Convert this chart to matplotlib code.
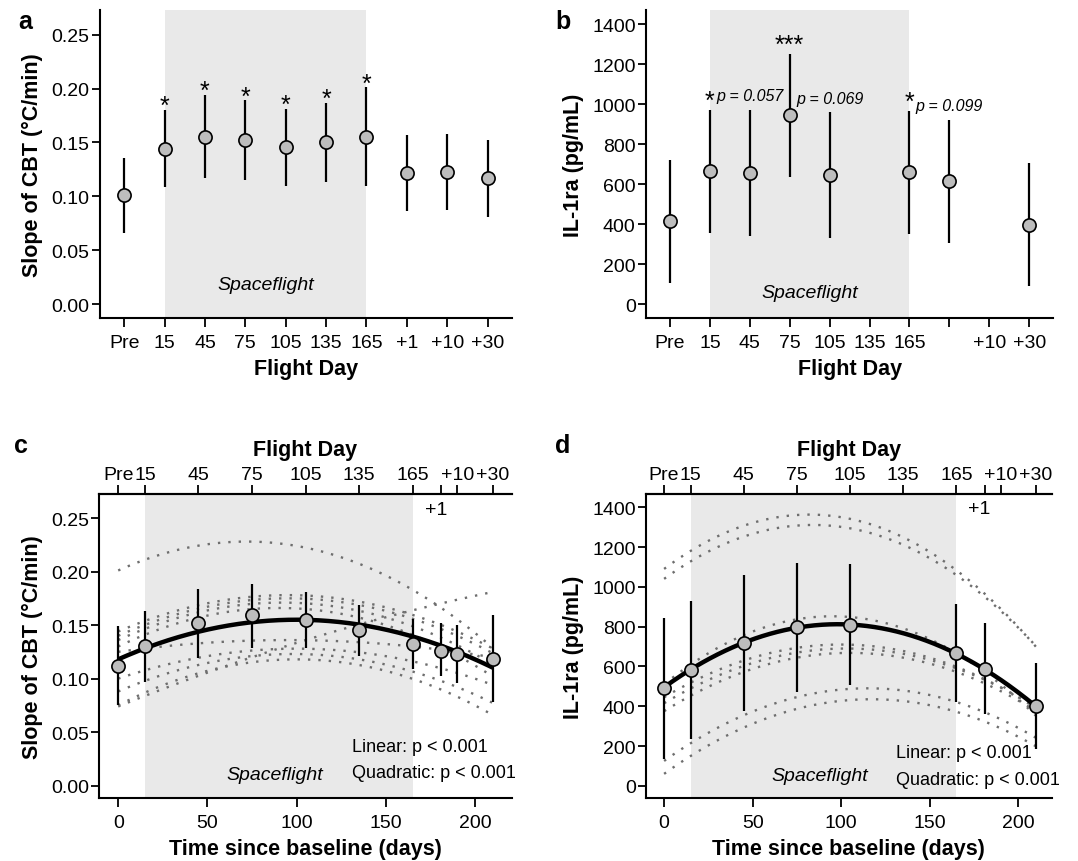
import numpy as np
import matplotlib
matplotlib.use('Agg')
import matplotlib.pyplot as plt

plt.rcParams['font.family'] = ['Liberation Sans', 'DejaVu Sans']

# ---- panel a: slope of CBT by flight day (categorical) ----
a_labels = ['Pre', '15', '45', '75', '105', '135', '165', '+1', '+10', '+30']
a_mean = [0.101, 0.144, 0.155, 0.152, 0.146, 0.150, 0.155, 0.122, 0.123, 0.117]
a_low = [0.066, 0.109, 0.117, 0.115, 0.110, 0.113, 0.110, 0.086, 0.087, 0.081]
a_high = [0.136, 0.180, 0.194, 0.189, 0.181, 0.187, 0.201, 0.157, 0.158, 0.152]
a_stars = ['', '*', '*', '*', '*', '*', '*', '', '', '']

# ---- panel b: IL-1ra by flight day (categorical) ----
b_tick_labels = ['Pre', '15', '45', '75', '105', '135', '165', '', '+10', '+30']
b_pos = [0, 1, 2, 3, 4, 6, 7, 9]
b_mean = [417, 663, 655, 945, 645, 662, 617, 397]
b_low = [105, 355, 342, 633, 330, 350, 305, 88]
b_high = [722, 970, 970, 1250, 958, 967, 922, 705]
b_stars = ['', '*', '', '***', '', '*', '', '']
b_pvals = ['', '', 'p = 0.057', '', 'p = 0.069', '', 'p = 0.099', '']

# ---- top axis for panels c/d ----
top_ticks = [0, 15, 45, 75, 105, 135, 165, 181, 190, 210]
top_labels = ['Pre', '15', '45', '75', '105', '135', '165', '', '+10', '+30']

# ---- panel c: slope of CBT vs time since baseline ----
c_days = [0, 15, 45, 75, 105, 135, 165, 181, 190, 210]
c_mean = [0.112, 0.130, 0.152, 0.159, 0.155, 0.145, 0.132, 0.126, 0.123, 0.118]
c_low = [0.075, 0.097, 0.119, 0.129, 0.129, 0.121, 0.109, 0.102, 0.096, 0.078]
c_high = [0.149, 0.163, 0.184, 0.188, 0.181, 0.169, 0.156, 0.152, 0.150, 0.159]
# quadratic fits, vertex form: value at day 0, day of peak, peak value
c_fit = (0.118, 100, 0.155)
c_subj_day0 = [0.201, 0.144, 0.140, 0.136, 0.130, 0.125, 0.074, 0.100, 0.088, 0.075]
c_subj_peak_day = [72, 95, 95, 92, 90, 95, 435, 100, 98, 100]
c_subj_peak = [0.228, 0.178, 0.175, 0.171, 0.166, 0.136, 0.220, 0.128, 0.123, 0.118]

# ---- panel d: IL-1ra vs time since baseline ----
d_days = [0, 15, 45, 75, 105, 165, 181, 210]
d_mean = [490, 583, 718, 796, 810, 667, 587, 402]
d_low = [137, 235, 377, 469, 506, 419, 360, 184]
d_high = [842, 931, 1060, 1120, 1115, 914, 818, 617]
d_fit = (495, 98, 812)
d_subj_day0 = [1090, 1040, 510, 445, 415, 375, 125, 60]
d_subj_peak_day = [82, 84, 95, 100, 103, 105, 115, 117]
d_subj_peak = [1363, 1311, 852, 710, 690, 668, 490, 435]

SHADE = '#e9e9e9'
FILL = '#bdbdbd'
TICK_FS = 14
LABEL_FS = 15.5
STAR_FS = 18


def quad(t, day0, peak_day, peak):
    return peak - (peak - day0) * ((t - peak_day) / peak_day) ** 2


def style_axis(ax, top=False):
    for s in ['left', 'bottom', 'top', 'right']:
        ax.spines[s].set_linewidth(1.5)
    ax.spines['right'].set_visible(False)
    ax.spines['top'].set_visible(top)
    ax.tick_params(axis='x', direction='out', length=6.5, width=1.3,
                   labelsize=TICK_FS, pad=5)
    ax.tick_params(axis='y', direction='out', length=5.5, width=1.3,
                   labelsize=TICK_FS, pad=2)


def draw_points(ax, x, mean, low, high):
    mean = np.array(mean)
    err = [mean - np.array(low), np.array(high) - mean]
    ax.errorbar(x, mean, yerr=err, fmt='none', ecolor='black', elinewidth=1.6,
                capsize=0, zorder=4)
    ax.plot(x, mean, 'o', ms=9.5, mfc=FILL, mec='black', mew=1.2, zorder=5)


fig = plt.figure(figsize=(10.78, 8.62), dpi=100)
ax_a = fig.add_axes([0.0928, 0.6299, 0.3819, 0.3573])
ax_b = fig.add_axes([0.5993, 0.6299, 0.3776, 0.3573])
ax_c = fig.add_axes([0.0921, 0.0727, 0.3826, 0.3534])
ax_d = fig.add_axes([0.5993, 0.0727, 0.3763, 0.3534])

# panel a
ax = ax_a
style_axis(ax)
xa = np.arange(len(a_labels))
ax.axvspan(1, 6, color=SHADE, lw=0, zorder=0)
draw_points(ax, xa, a_mean, a_low, a_high)
for x, h, s in zip(xa, a_high, a_stars):
    if s:
        ax.text(x, h - 0.003, s, ha='center', va='baseline', fontsize=STAR_FS)
ax.text(3.5, 0.018, 'Spaceflight', ha='center', va='center', fontsize=14, style='italic')
ax.set_xlim(-0.6, 9.6)
ax.set_ylim(-0.013, 0.2729)
ax.set_xticks(xa)
ax.set_xticklabels(a_labels)
ax.set_yticks([0, 0.05, 0.10, 0.15, 0.20, 0.25])
ax.set_yticklabels(['0.00', '0.05', '0.10', '0.15', '0.20', '0.25'])
ax.set_xlabel('Flight Day', fontsize=LABEL_FS, fontweight='bold', labelpad=5)
ax.set_ylabel('Slope of CBT (°C/min)', fontsize=LABEL_FS, fontweight='bold', labelpad=6)

# panel b
ax = ax_b
style_axis(ax)
ax.axvspan(1, 6, color=SHADE, lw=0, zorder=0)
draw_points(ax, b_pos, b_mean, b_low, b_high)
for x, h, s in zip(b_pos, b_high, b_stars):
    if s:
        ax.text(x, h + 10, s, ha='center', va='baseline', fontsize=STAR_FS)
for x, h, p in zip(b_pos, b_high, b_pvals):
    if p:
        ax.text(x, h + 72, p, ha='center', va='center', fontsize=11.5, style='italic')
ax.text(3.5, 60, 'Spaceflight', ha='center', va='center', fontsize=14, style='italic')
ax.set_xlim(-0.6, 9.6)
ax.set_ylim(-70, 1470)
ax.set_xticks(np.arange(len(b_tick_labels)))
ax.set_xticklabels(b_tick_labels)
ax.set_yticks(np.arange(0, 1401, 200))
ax.set_xlabel('Flight Day', fontsize=LABEL_FS, fontweight='bold', labelpad=5)
ax.set_ylabel('IL-1ra (pg/mL)', fontsize=LABEL_FS, fontweight='bold', labelpad=6)


def time_panel(ax, days, mean, low, high, fit, s0, sday, speak, xlim, ylim, yticks,
               yticklabels, ylabel, plus1_y, lin_y, quad_y, sf_y):
    style_axis(ax, top=True)
    ax.axvspan(15, 165, color=SHADE, lw=0, zorder=0)
    t = np.linspace(0, 210, 300)
    for a0, pd, pk in zip(s0, sday, speak):
        ax.plot(t, quad(t, a0, pd, pk), color='#6e6e6e', lw=1.7,
                ls=(0, (1, 3.4)), zorder=2)
    ax.plot(t, quad(t, *fit), color='black', lw=3.2, zorder=3,
            solid_capstyle='butt')
    draw_points(ax, days, mean, low, high)
    ax.set_xlim(*xlim)
    ax.set_ylim(*ylim)
    ax.set_xticks([0, 50, 100, 150, 200])
    ax.set_yticks(yticks)
    ax.set_yticklabels(yticklabels)
    ax.set_xlabel('Time since baseline (days)', fontsize=LABEL_FS, fontweight='bold',
                  labelpad=5)
    ax.set_ylabel(ylabel, fontsize=LABEL_FS, fontweight='bold', labelpad=6)
    sec = ax.secondary_xaxis('top')
    sec.set_xticks(top_ticks)
    sec.set_xticklabels(top_labels)
    sec.tick_params(direction='out', length=6.5, width=1.3, labelsize=TICK_FS, pad=1)
    sec.spines['top'].set_linewidth(1.5)
    sec.set_xlabel('Flight Day', fontsize=LABEL_FS, fontweight='bold', labelpad=8)
    ax.text(178, plus1_y, '+1', ha='center', va='center', fontsize=TICK_FS)
    ax.text(131, lin_y, 'Linear: p < 0.001', ha='left', va='center', fontsize=13)
    ax.text(131, quad_y, 'Quadratic: p < 0.001', ha='left', va='center', fontsize=13,
            clip_on=False)
    ax.text(88, sf_y, 'Spaceflight', ha='center', va='center', fontsize=14,
            style='italic')


time_panel(ax_c, c_days, c_mean, c_low, c_high, c_fit,
           c_subj_day0, c_subj_peak_day, c_subj_peak,
           (-10.6, 220.6), (-0.0118, 0.2727), [0, 0.05, 0.10, 0.15, 0.20, 0.25],
           ['0.00', '0.05', '0.10', '0.15', '0.20', '0.25'],
           'Slope of CBT (°C/min)', 0.258, 0.037, 0.012, 0.010)
time_panel(ax_d, d_days, d_mean, d_low, d_high, d_fit,
           d_subj_day0, d_subj_peak_day, d_subj_peak,
           (-10.2, 218.8), (-63, 1468), list(range(0, 1401, 200)),
           [str(v) for v in range(0, 1401, 200)],
           'IL-1ra (pg/mL)', 1392, 168, 34, 50)

# panel letters
for lab, x, y in [('a', 0.017, 0.975), ('b', 0.515, 0.975),
                  ('c', 0.013, 0.483), ('d', 0.515, 0.483)]:
    fig.text(x, y, lab, fontsize=18, fontweight='bold', ha='left', va='center')

fig.savefig('out.png', dpi=100)
